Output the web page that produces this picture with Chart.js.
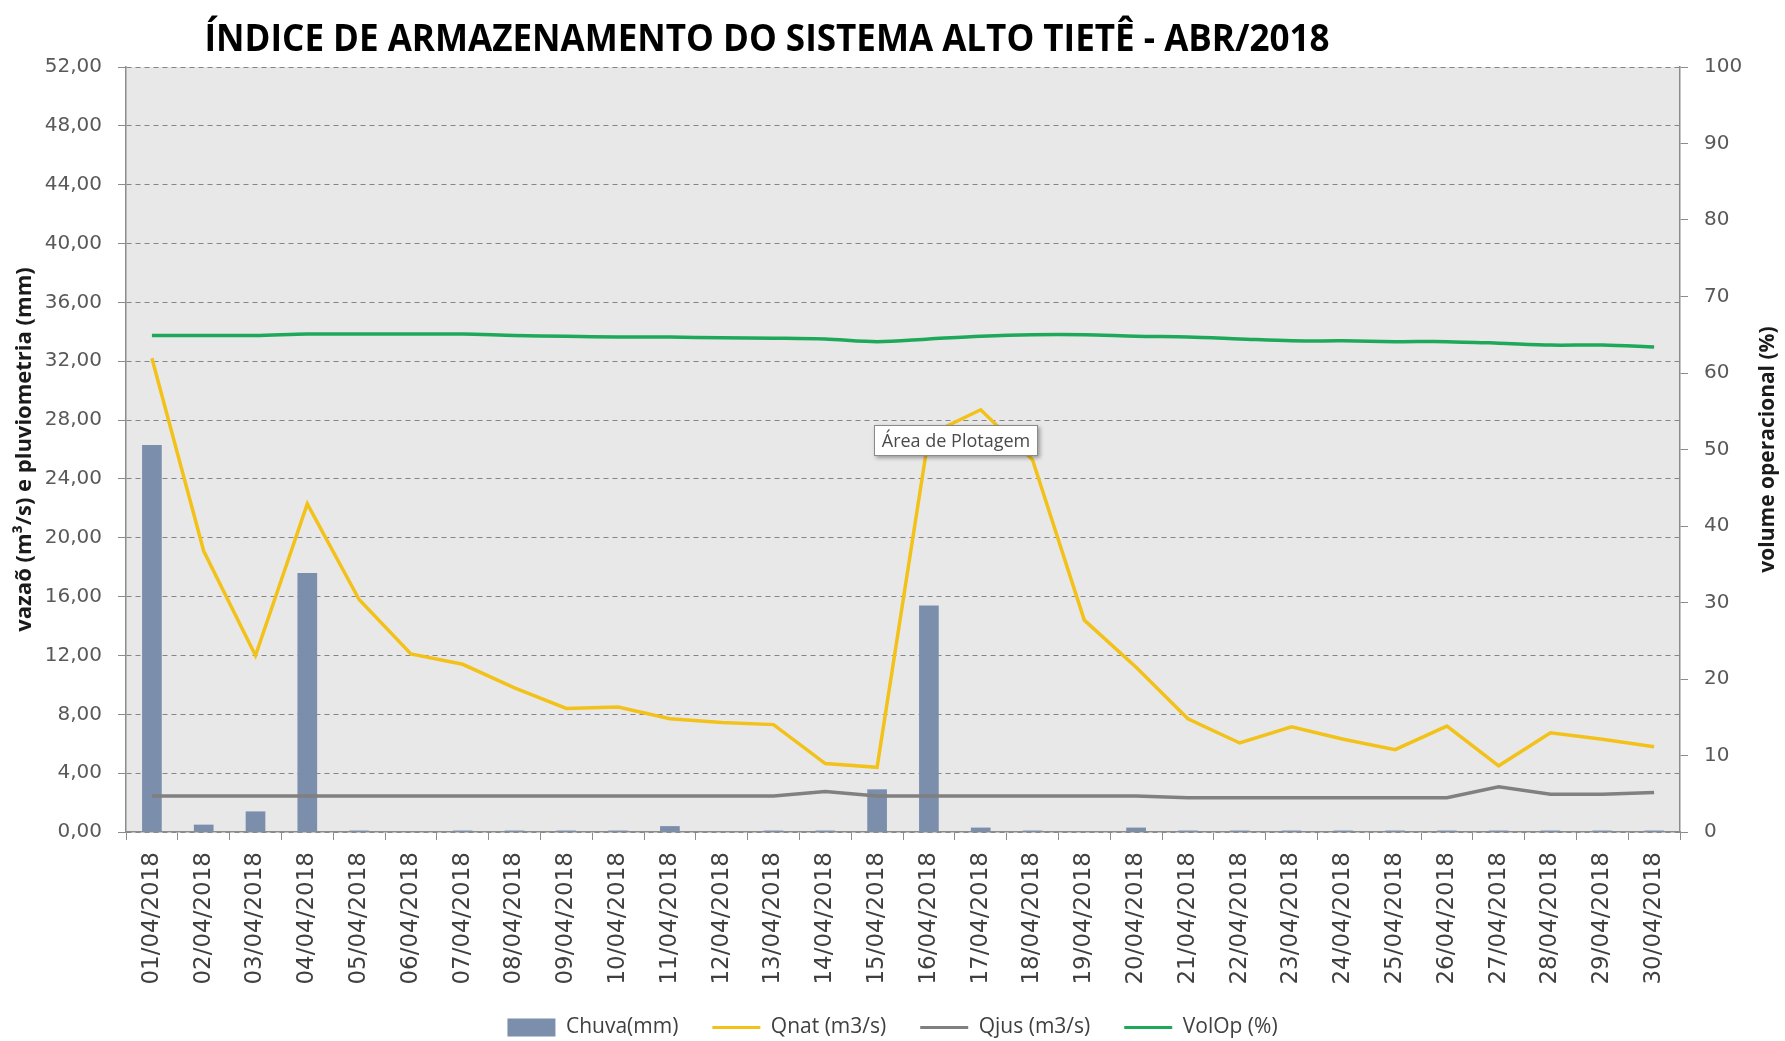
<!DOCTYPE html>
<html lang="pt-BR">
<head>
<meta charset="utf-8">
<title>Índice de Armazenamento - Alto Tietê</title>
<script src="https://cdn.jsdelivr.net/npm/chart.js@4.4.1/dist/chart.umd.min.js"></script>
<style>
  html, body { margin: 0; padding: 0; background: #ffffff; }
  #grafico { display: block; }
</style>
</head>
<body>
<canvas id="grafico" width="1785" height="1041"></canvas>
<script>
/* ───────── dados ───────── */
const dias = ['01/04/2018', '02/04/2018', '03/04/2018', '04/04/2018', '05/04/2018', '06/04/2018',
  '07/04/2018', '08/04/2018', '09/04/2018', '10/04/2018', '11/04/2018', '12/04/2018',
  '13/04/2018', '14/04/2018', '15/04/2018', '16/04/2018', '17/04/2018', '18/04/2018',
  '19/04/2018', '20/04/2018', '21/04/2018', '22/04/2018', '23/04/2018', '24/04/2018',
  '25/04/2018', '26/04/2018', '27/04/2018', '28/04/2018', '29/04/2018', '30/04/2018'];

const chuva = [26.3, 0.5, 1.4, 17.6, 0.1, 0, 0.1, 0.1, 0.1, 0.1, 0.4, 0, 0.1, 0.1, 2.9,
  15.4, 0.3, 0.1, 0, 0.3, 0.1, 0.1, 0.1, 0.1, 0.1, 0.1, 0.1, 0.1, 0.1, 0.1];

const qnat = [32.2, 19.1, 12.0, 22.3, 15.8, 12.1, 11.4, 9.8, 8.4, 8.5, 7.7, 7.45, 7.3, 4.65, 4.4,
  27.0, 28.7, 25.3, 14.4, 11.2, 7.7, 6.05, 7.15, 6.3, 5.6, 7.2, 4.5, 6.75, 6.3, 5.8];

const qjus = [2.45, 2.45, 2.45, 2.45, 2.45, 2.45, 2.45, 2.45, 2.45, 2.45, 2.45, 2.45, 2.45, 2.75, 2.45,
  2.45, 2.45, 2.45, 2.45, 2.45, 2.33, 2.33, 2.33, 2.33, 2.33, 2.33, 3.07, 2.56, 2.56, 2.68];

const volOp = [64.9, 64.9, 64.9, 65.1, 65.1, 65.1, 65.1, 64.9, 64.8, 64.7, 64.7, 64.6, 64.55, 64.45, 64.1,
  64.45, 64.8, 65.0, 65.0, 64.8, 64.7, 64.45, 64.2, 64.2, 64.1, 64.1, 63.9, 63.65, 63.65, 63.4];

const ticksVazao = [0, 4, 8, 12, 16, 20, 24, 28, 32, 36, 40, 44, 48, 52];
const ticksVolume = [0, 10, 20, 30, 40, 50, 60, 70, 80, 90, 100];

const titulo = 'ÍNDICE DE ARMAZENAMENTO DO SISTEMA ALTO TIETÊ - ABR/2018';
const tituloEixoEsq = 'vazaõ (m³/s) e pluviometria (mm)';
const tituloEixoDir = 'volume operacional (%)';
const notaPlotagem = 'Área de Plotagem';

const fonteNarrow = "'Liberation Sans Narrow', 'Open Sans', sans-serif";
const fonteTicks = "'DejaVu Sans', Verdana, sans-serif";

// Fundo da área de plotagem, título, título do eixo direito e a "dica" do Excel
const decoracao = {
  id: 'decoracao',
  beforeLayout(chart) {
    // legenda mais baixa: altura fixa para ficar colada na borda
    const lg = chart.legend;
    if (lg && !lg._alturaFixa) {
      const fitOriginal = lg.fit.bind(lg);
      lg.fit = function () { fitOriginal(); this.height = 58; };
      lg._alturaFixa = true;
    }
  },
  beforeDraw(chart) {
    const { ctx, chartArea: a } = chart;
    ctx.save();
    ctx.fillStyle = '#e8e8e8';
    ctx.fillRect(a.left, a.top, a.right - a.left, a.bottom - a.top);
    ctx.restore();
  },
  afterDraw(chart) {
    const { ctx, chartArea: a } = chart;
    ctx.save();
    // título
    ctx.fillStyle = '#000000';
    ctx.font = "bold 38px 'Open Sans', sans-serif";
    ctx.textAlign = 'center';
    ctx.textBaseline = 'middle';
    ctx.fillText(titulo, 767, 40, 1125);

    // título do eixo direito (lido de baixo para cima)
    ctx.translate(1768, (a.top + a.bottom) / 2);
    ctx.rotate(-Math.PI / 2);
    ctx.font = "bold 21px 'Open Sans', sans-serif";
    ctx.fillStyle = '#1a1a1a';
    ctx.fillText(tituloEixoDir, 0, 0);
    ctx.restore();

    // caixinha "Área de Plotagem"
    ctx.save();
    const bx = 874, by = 425, bw = 164, bh = 31;
    ctx.shadowColor = 'rgba(0,0,0,0.35)';
    ctx.shadowBlur = 4;
    ctx.shadowOffsetX = 2;
    ctx.shadowOffsetY = 2;
    ctx.fillStyle = '#ffffff';
    ctx.fillRect(bx, by, bw, bh);
    ctx.shadowColor = 'transparent';
    ctx.strokeStyle = '#8a8a8a';
    ctx.lineWidth = 1;
    ctx.strokeRect(bx + 0.5, by + 0.5, bw - 1, bh - 1);
    ctx.fillStyle = '#4a4a4a';
    ctx.font = '18px ' + fonteNarrow;
    ctx.textAlign = 'center';
    ctx.textBaseline = 'middle';
    ctx.fillText(notaPlotagem, bx + bw / 2, by + bh / 2 + 1, bw - 12);
    ctx.restore();
  }
};

const ctx = document.getElementById('grafico').getContext('2d');

new Chart(ctx, {
  type: 'bar',
  data: {
    labels: dias,
    datasets: [
      {
        label: 'Chuva(mm)',
        data: chuva,
        backgroundColor: '#7b8fad',
        borderWidth: 0,
        barPercentage: 0.38,
        categoryPercentage: 1,
        yAxisID: 'y',
        order: 1
      },
      {
        type: 'line',
        label: 'Qnat (m3/s)',
        data: qnat,
        borderColor: '#f2c21b',
        backgroundColor: '#f2c21b',
        borderWidth: 3.5,
        pointRadius: 0,
        tension: 0,
        yAxisID: 'y',
        order: 0
      },
      {
        type: 'line',
        label: 'Qjus (m3/s)',
        data: qjus,
        borderColor: '#808080',
        backgroundColor: '#808080',
        borderWidth: 3.5,
        pointRadius: 0,
        tension: 0,
        yAxisID: 'y',
        order: 0
      },
      {
        type: 'line',
        label: 'VolOp (%)',
        data: volOp,
        borderColor: '#1ea95a',
        backgroundColor: '#1ea95a',
        borderWidth: 3.5,
        pointRadius: 0,
        tension: 0.3,
        yAxisID: 'y1',
        order: 0
      }
    ]
  },
  options: {
    responsive: false,
    animation: false,
    layout: { padding: { top: 67, left: 0, right: 0, bottom: 0 } },
    plugins: {
      title: { display: false },
      tooltip: { enabled: false },
      legend: {
        display: true,
        position: 'bottom',
        labels: {
          color: '#404040',
          font: { family: fonteNarrow, size: 21 },
          usePointStyle: true,
          pointStyleWidth: 48,
          boxHeight: 18,
          padding: 34,
          generateLabels(chart) {
            const itens = Chart.defaults.plugins.legend.labels.generateLabels(chart);
            itens.sort((a, b) => a.datasetIndex - b.datasetIndex);
            itens.forEach(it => {
              const ds = chart.data.datasets[it.datasetIndex];
              if (ds.type === 'line') {
                it.pointStyle = 'line';
                it.lineWidth = 3;
                it.strokeStyle = ds.borderColor;
              } else {
                it.pointStyle = 'rect';
                it.lineWidth = 0;
                it.fillStyle = ds.backgroundColor;
              }
            });
            return itens;
          }
        }
      }
    },
    scales: {
      x: {
        offset: true,
        grid: {
          display: true,
          offset: true,
          drawOnChartArea: false,
          drawTicks: true,
          tickLength: 8,
          color: '#8c8c8c'
        },
        border: { display: true, color: '#8c8c8c', width: 1.5 },
        ticks: {
          autoSkip: false,
          maxRotation: 90,
          minRotation: 90,
          padding: 12,
          color: '#404040',
          font: { family: fonteTicks, size: 23 }
        },
        afterFit(scale) { scale.height = 151; }
      },
      y: {
        position: 'left',
        min: 0,
        max: 52,
        afterBuildTicks(scale) { scale.ticks = ticksVazao.map(v => ({ value: v })); },
        ticks: {
          padding: 16,
          color: '#595959',
          font: { family: fonteTicks, size: 20 },
          callback: v => v.toFixed(2).replace('.', ',')
        },
        grid: {
          color: '#858585',
          lineWidth: 1,
          tickLength: 8,
          tickColor: '#8c8c8c',
          tickBorderDash: []
        },
        border: { display: true, color: '#8c8c8c', width: 1.5, dash: [5, 4] },
        title: {
          display: true,
          text: tituloEixoEsq,
          color: '#1a1a1a',
          font: { family: "'Open Sans', sans-serif", size: 22, weight: 'bold' },
          padding: { top: 12, bottom: 0 }
        },
        afterFit(scale) { scale.width = 126; }
      },
      y1: {
        position: 'right',
        min: 0,
        max: 100,
        afterBuildTicks(scale) { scale.ticks = ticksVolume.map(v => ({ value: v })); },
        ticks: {
          padding: 16,
          color: '#595959',
          font: { family: fonteTicks, size: 20 }
        },
        grid: {
          drawOnChartArea: false,
          drawTicks: true,
          tickLength: 8,
          color: '#8c8c8c'
        },
        border: { display: true, color: '#8c8c8c', width: 1.5 },
        afterFit(scale) { scale.width = 105; }
      }
    }
  },
  plugins: [decoracao]
});
</script>
</body>
</html>
